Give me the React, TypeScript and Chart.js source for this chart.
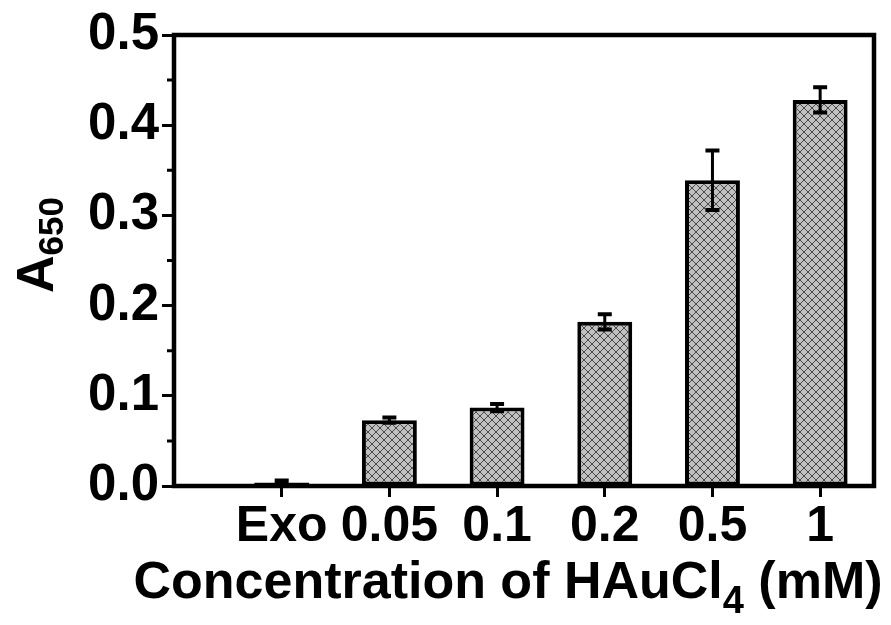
import React, { useEffect, useRef } from "react";
import { Chart, registerables } from "chart.js";
Chart.register(...registerables);

const categories = ["Exo", "0.05", "0.1", "0.2", "0.5", "1"];
const values = [0.004, 0.073, 0.087, 0.182, 0.339, 0.428];
const errors = [0.002, 0.003, 0.004, 0.0085, 0.033, 0.014];
const yMajorTicks = [0, 0.1, 0.2, 0.3, 0.4, 0.5];
const yMinorTicks = [0.05, 0.15, 0.25, 0.35, 0.45];

const FONT = "'Liberation Sans', Arial, Helvetica, sans-serif";

function makePattern(): CanvasPattern | string {
  const size = 8;
  const c = document.createElement("canvas");
  c.width = size;
  c.height = size;
  const g = c.getContext("2d");
  if (!g) return "#bdbdbd";
  g.fillStyle = "#c0c0c0";
  g.fillRect(0, 0, size, size);
  g.strokeStyle = "#4a4a4a";
  g.lineWidth = 1;
  g.beginPath();
  g.moveTo(0, 0);
  g.lineTo(size, size);
  g.moveTo(size, 0);
  g.lineTo(0, size);
  g.stroke();
  const p = g.createPattern(c, "repeat");
  return p || "#bdbdbd";
}

const decorPlugin = {
  id: "decor",
  afterDatasetsDraw(chart: any) {
    const ctx = chart.ctx as CanvasRenderingContext2D;
    const x = chart.scales.x;
    const y = chart.scales.y;
    const ca = chart.chartArea;
    ctx.save();
    // error bars
    ctx.strokeStyle = "#000";
    ctx.lineCap = "butt";
    values.forEach((v, i) => {
      const px = x.getPixelForValue(i + 1);
      const top = y.getPixelForValue(v + errors[i]);
      const bot = y.getPixelForValue(Math.max(0, v - errors[i]));
      ctx.lineWidth = 3;
      ctx.beginPath();
      ctx.moveTo(px, top);
      ctx.lineTo(px, bot);
      ctx.stroke();
      ctx.lineWidth = 4;
      ctx.beginPath();
      ctx.moveTo(px - 7, top);
      ctx.lineTo(px + 7, top);
      ctx.moveTo(px - 7, bot);
      ctx.lineTo(px + 7, bot);
      ctx.stroke();
    });
    // frame
    ctx.lineWidth = 4.5;
    ctx.strokeRect(ca.left, ca.top, ca.right - ca.left, ca.bottom - ca.top);
    // minor ticks
    ctx.lineWidth = 3;
    ctx.beginPath();
    yMinorTicks.forEach((t) => {
      const py = y.getPixelForValue(t);
      ctx.moveTo(ca.left - 7, py);
      ctx.lineTo(ca.left, py);
    });
    ctx.stroke();

    ctx.fillStyle = "#000";
    // x title with subscript
    const mainX = "bold 52px " + FONT;
    const subX = "bold 38px " + FONT;
    const p1 = "Concentration of HAuCl";
    const p2 = "4";
    const p3 = " (mM)";
    ctx.font = mainX;
    const w1 = ctx.measureText(p1).width;
    const w3 = ctx.measureText(p3).width;
    ctx.font = subX;
    const w2 = ctx.measureText(p2).width;
    const total = w1 + w2 + w3;
    const cx = 508;
    const base = 598;
    let sx = cx - total / 2;
    ctx.textBaseline = "alphabetic";
    ctx.textAlign = "left";
    ctx.font = mainX;
    ctx.fillText(p1, sx, base);
    sx += w1;
    ctx.font = subX;
    ctx.fillText(p2, sx, base + 15);
    sx += w2;
    ctx.font = mainX;
    ctx.fillText(p3, sx, base);

    // y title with subscript
    const mainY = "bold 52px " + FONT;
    const subY = "bold 35px " + FONT;
    ctx.font = mainY;
    const wA = ctx.measureText("A").width;
    ctx.font = subY;
    const wS = ctx.measureText("650").width;
    const totY = wA + wS;
    ctx.translate(53, 245 + totY / 2);
    ctx.rotate(-Math.PI / 2);
    ctx.font = mainY;
    ctx.fillText("A", 0, 0);
    ctx.font = subY;
    ctx.fillText("650", wA, 10);
    ctx.restore();
  },
};

export default function App() {
  const ref = useRef<HTMLCanvasElement | null>(null);
  useEffect(() => {
    if (!ref.current) return;
    const pattern = makePattern();
    const chart = new Chart(ref.current, {
      type: "bar",
      data: {
        datasets: [
          {
            data: values.map((v, i) => ({ x: i + 1, y: v })),
            backgroundColor: pattern as any,
            borderColor: "#000",
            borderWidth: 4,
            borderSkipped: false,
            barPercentage: 0.51,
            categoryPercentage: 1,
          },
        ],
      },
      options: {
        animation: false,
        responsive: true,
        maintainAspectRatio: false,
        layout: { padding: { top: 35, right: 17, left: 0, bottom: 0 } },
        plugins: { legend: { display: false }, tooltip: { enabled: false } },
        scales: {
          x: {
            type: "linear",
            min: 0,
            max: 6.5,
            offset: false,
            afterBuildTicks: (axis: any) => {
              axis.ticks = categories.map((_, i) => ({ value: i + 1 }));
            },
            afterFit: (scale: any) => {
              scale.height = 139;
            },
            ticks: {
              autoSkip: false,
              maxRotation: 0,
              color: "#000",
              padding: 0,
              font: { family: FONT, size: 50, weight: "bold" },
              callback: (v: any) => categories[Math.round(Number(v)) - 1] ?? "",
            },
            grid: {
              display: true,
              drawOnChartArea: false,
              drawTicks: true,
              tickLength: 11,
              tickWidth: 3,
              tickColor: "#000",
              offset: false,
            },
            border: { display: false },
          },
          y: {
            min: 0,
            max: 0.5,
            afterBuildTicks: (axis: any) => {
              axis.ticks = yMajorTicks.map((v) => ({ value: v }));
            },
            afterFit: (scale: any) => {
              scale.width = 174;
            },
            ticks: {
              color: "#000",
              padding: 3,
              font: { family: FONT, size: 51, weight: "bold" },
              callback: (v: any) => Number(v).toFixed(1),
            },
            grid: {
              display: true,
              drawOnChartArea: false,
              drawTicks: true,
              tickLength: 12,
              tickWidth: 3,
              tickColor: "#000",
            },
            border: { display: false },
          },
        },
      },
      plugins: [decorPlugin],
    } as any);
    return () => chart.destroy();
  }, []);
  return (
    <div style={{ position: "fixed", left: 0, top: 0, width: 891, height: 625, background: "#fff" }}>
      <canvas ref={ref} style={{ display: "block" }} />
    </div>
  );
}
